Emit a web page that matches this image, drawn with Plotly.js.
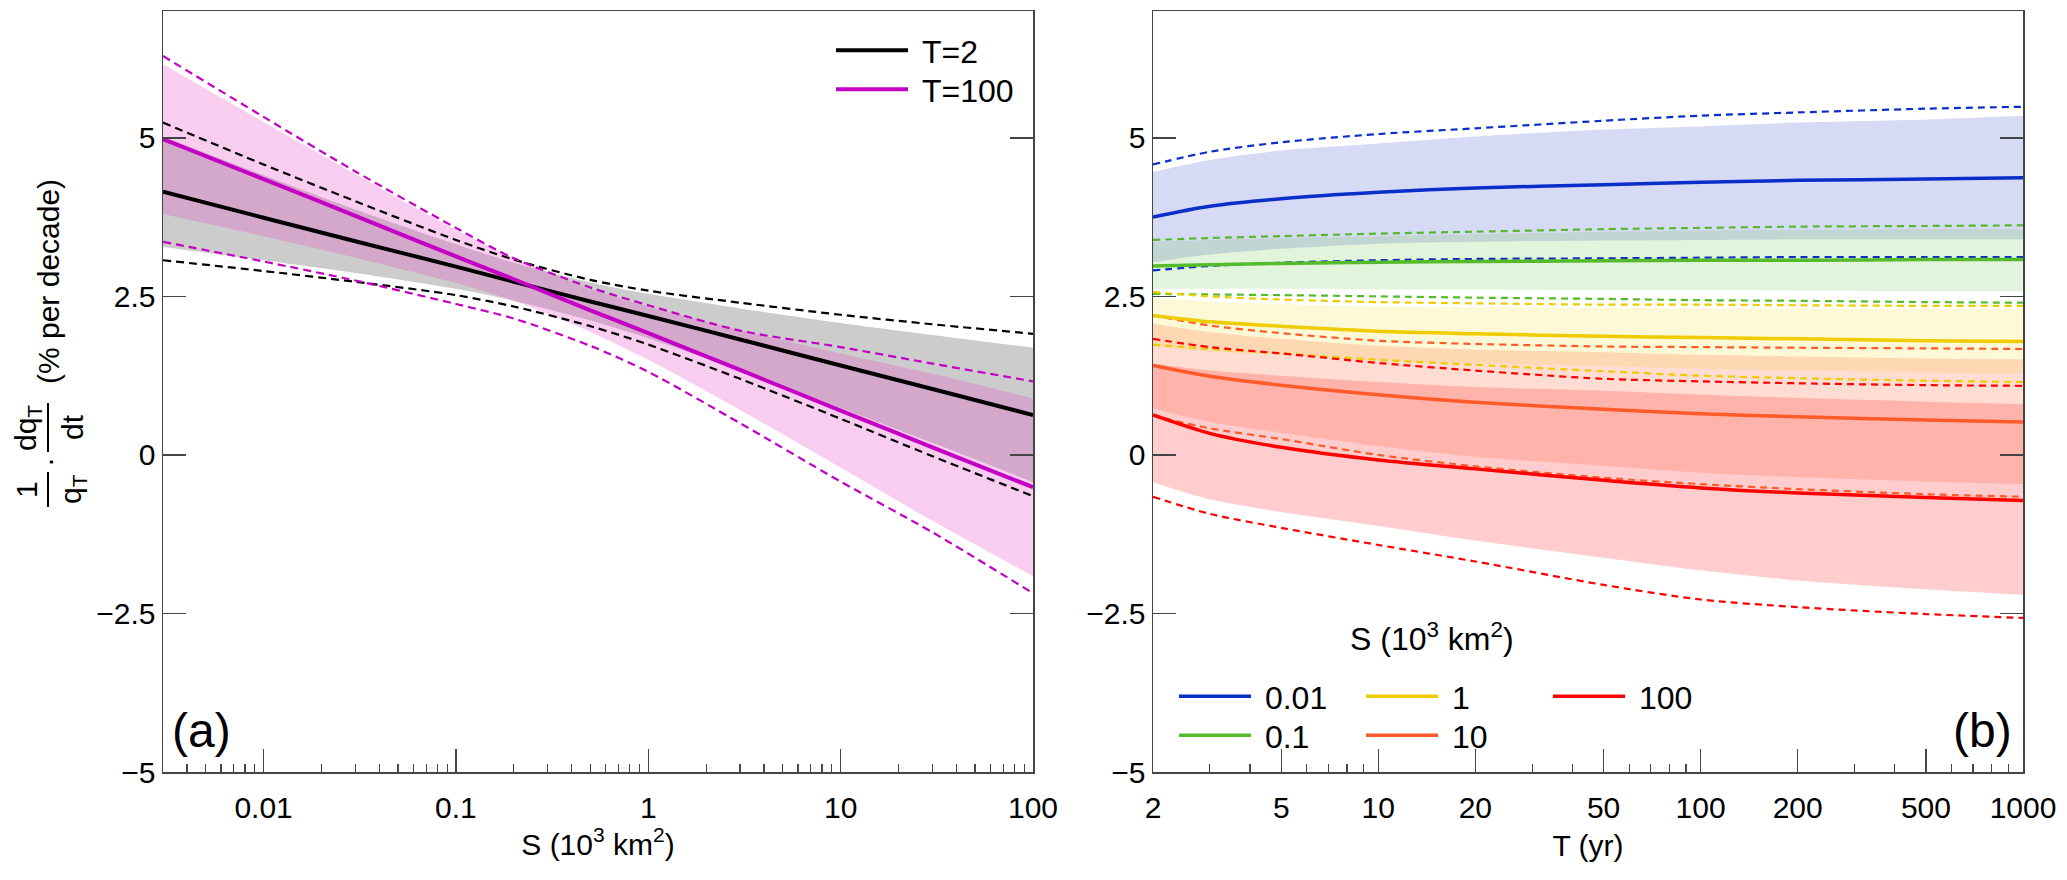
<!DOCTYPE html>
<html>
<head>
<meta charset="utf-8">
<script src="https://cdn.plot.ly/plotly-3.0.1.min.js"></script>
<style>
  html, body { margin: 0; padding: 0; background: #fff; }
  #chart { width: 2067px; height: 880px; }
</style>
</head>
<body>
<div id="chart"></div>
<script>
// ---- panel (a): trend against catchment area S (10^3 km2) ----
const S_AREA = [0.003, 0.01, 0.03, 0.1, 0.2, 0.5, 1, 3, 10, 30, 100];

const T2_MEAN    = [4.15, 3.74, 3.37, 2.97, 2.73, 2.42, 2.19, 1.82, 1.41, 1.04, 0.63];
const T2_BAND_HI = [5.02, 4.41, 3.87, 3.32, 3.03, 2.72, 2.54, 2.31, 2.08, 1.89, 1.69];
const T2_BAND_LO = [3.28, 3.07, 2.87, 2.62, 2.43, 2.12, 1.84, 1.33, 0.74, 0.19, -0.43];
const T2_DASH_HI = [5.24, 4.58, 4.00, 3.39, 3.08, 2.76, 2.59, 2.40, 2.21, 2.06, 1.91];
const T2_DASH_LO = [3.07, 2.90, 2.73, 2.52, 2.34, 2.03, 1.74, 1.20, 0.57, -0.02, -0.65];

const T100_MEAN    = [4.98, 4.35, 3.77, 3.13, 2.77, 2.28, 1.92, 1.34, 0.70, 0.12, -0.51];
const T100_BAND_HI = [6.16, 5.25, 4.43, 3.55, 3.11, 2.62, 2.34, 1.97, 1.60, 1.28, 0.89];
const T100_BAND_LO = [3.80, 3.45, 3.11, 2.71, 2.43, 1.94, 1.50, 0.71, -0.20, -1.04, -1.91];
const T100_DASH_HI = [6.29, 5.33, 4.47, 3.58, 3.10, 2.64, 2.36, 1.96, 1.70, 1.44, 1.16];
const T100_DASH_LO = [3.36, 3.05, 2.75, 2.38, 2.15, 1.72, 1.31, 0.50, -0.42, -1.22, -2.18];

// ---- panel (b): trend against return period T (yr) ----
const T_RET = [2, 3, 5, 10, 20, 50, 100, 200, 500, 1000];

const S001_MEAN    = [3.75, 3.92, 4.04, 4.14, 4.21, 4.26, 4.30, 4.33, 4.35, 4.37];
const S001_BAND_HI = [4.46, 4.65, 4.80, 4.91, 5.02, 5.13, 5.18, 5.24, 5.29, 5.35];
const S001_BAND_LO = [3.04, 3.16, 3.25, 3.33, 3.36, 3.38, 3.39, 3.40, 3.40, 3.40];
const S001_DASH_HI = [4.58, 4.78, 4.93, 5.06, 5.15, 5.27, 5.35, 5.40, 5.46, 5.49];
const S001_DASH_LO = [2.91, 2.98, 3.03, 3.07, 3.09, 3.10, 3.11, 3.12, 3.12, 3.12];

const S01_MEAN    = [2.98, 3.00, 3.02, 3.04, 3.05, 3.06, 3.07, 3.07, 3.08, 3.08];
const S01_BAND_HI = [3.36, 3.39, 3.42, 3.45, 3.48, 3.52, 3.54, 3.55, 3.56, 3.56];
const S01_BAND_LO = [2.62, 2.62, 2.62, 2.61, 2.61, 2.60, 2.60, 2.59, 2.58, 2.58];
const S01_DASH_HI = [3.39, 3.42, 3.45, 3.49, 3.52, 3.56, 3.58, 3.60, 3.61, 3.62];
const S01_DASH_LO = [2.54, 2.53, 2.52, 2.50, 2.48, 2.46, 2.44, 2.43, 2.41, 2.40];

const S1_MEAN    = [2.20, 2.10, 2.03, 1.95, 1.91, 1.87, 1.85, 1.83, 1.80, 1.79];
const S1_BAND_HI = [2.48, 2.42, 2.38, 2.34, 2.33, 2.32, 2.31, 2.31, 2.30, 2.30];
const S1_BAND_LO = [1.70, 1.63, 1.58, 1.49, 1.44, 1.40, 1.36, 1.33, 1.30, 1.28];
const S1_DASH_HI = [2.57, 2.50, 2.45, 2.41, 2.39, 2.37, 2.37, 2.36, 2.35, 2.35];
const S1_DASH_LO = [1.74, 1.67, 1.60, 1.50, 1.42, 1.32, 1.25, 1.21, 1.17, 1.15];

const S10_MEAN    = [1.41, 1.24, 1.10, 0.95, 0.83, 0.72, 0.65, 0.60, 0.55, 0.52];
const S10_BAND_HI = [2.07, 1.94, 1.83, 1.72, 1.66, 1.62, 1.58, 1.55, 1.52, 1.51];
const S10_BAND_LO = [0.73, 0.52, 0.35, 0.14, -0.03, -0.17, -0.28, -0.35, -0.42, -0.46];
const S10_DASH_HI = [2.20, 2.04, 1.92, 1.80, 1.75, 1.71, 1.70, 1.69, 1.68, 1.67];
const S10_DASH_LO = [0.62, 0.42, 0.25, 0.00, -0.18, -0.36, -0.46, -0.54, -0.62, -0.66];

const S100_MEAN    = [0.63, 0.34, 0.12, -0.08, -0.22, -0.40, -0.52, -0.60, -0.67, -0.72];
const S100_BAND_HI = [1.44, 1.33, 1.25, 1.15, 1.07, 1.01, 0.95, 0.90, 0.84, 0.80];
const S100_BAND_LO = [-0.43, -0.70, -0.90, -1.12, -1.35, -1.62, -1.82, -1.98, -2.12, -2.21];
const S100_DASH_HI = [1.83, 1.70, 1.60, 1.45, 1.33, 1.20, 1.16, 1.13, 1.10, 1.09];
const S100_DASH_LO = [-0.66, -0.93, -1.15, -1.42, -1.68, -2.05, -2.28, -2.40, -2.51, -2.57];

const Y_TICKS = [-5, -2.5, 0, 2.5, 5];
const Y_TICK_TEXT = ["\u22125", "\u22122.5", "0", "2.5", "5"];
const S_TICKS = [0.01, 0.1, 1, 10, 100];
const S_TICK_TEXT = ["0.01", "0.1", "1", "10", "100"];
const T_TICKS = [2, 5, 10, 20, 50, 100, 200, 500, 1000];
const T_TICK_TEXT = ["2", "5", "10", "20", "50", "100", "200", "500", "1000"];

const FONT = "Liberation Sans, Arial, Helvetica, sans-serif";
const AXIS_COLOR = "#444";
const NB = "\u00a0"; // small gap between legend line and its label

// pixel helpers (figure is 2067 x 880, plot area spans 163..2023 x 11..772)
const PL = 163, PR = 2023, PT = 11, PB = 772;
const xp = (px) => (px - PL) / (PR - PL);
const yp = (py) => (PB - py) / (PB - PT);

const minorLogTicks = (fromExp, toExp, skip) => {
  const out = [];
  for (let e = fromExp; e < toExp; e += 1) {
    for (let m = 2; m <= 9; m += 1) {
      if (skip.indexOf(m) === -1) out.push(m * Math.pow(10, e));
    }
  }
  return out;
};

const bandPair = (x, lo, hi, fillColor, xa, ya) => [
  { x: x, y: lo, xaxis: xa, yaxis: ya, type: "scatter", mode: "lines",
    line: { width: 0, shape: "spline", smoothing: 0.8 }, hoverinfo: "skip", showlegend: false },
  { x: x, y: hi, xaxis: xa, yaxis: ya, type: "scatter", mode: "lines", fill: "tonexty",
    fillcolor: fillColor, line: { width: 0, shape: "spline", smoothing: 0.8 },
    hoverinfo: "skip", showlegend: false }
];

const dashLine = (x, y, color, xa, ya, dash) => ({
  x: x, y: y, xaxis: xa, yaxis: ya, type: "scatter", mode: "lines",
  line: { color: color, width: 2.2, dash: dash, shape: "spline", smoothing: 0.8 },
  hoverinfo: "skip", showlegend: false
});

const meanLine = (x, y, color, name, xa, ya, legend, width) => ({
  x: x, y: y, xaxis: xa, yaxis: ya, type: "scatter", mode: "lines", name: NB + name,
  line: { color: color, width: width, shape: "spline", smoothing: 0.8 },
  legend: legend, showlegend: true
});

const panelA = [
  { name: "T=2", color: "#000000", fill: "rgb(204,204,204)", legend: "legend",
    mean: T2_MEAN, lo: T2_BAND_LO, hi: T2_BAND_HI, dlo: T2_DASH_LO, dhi: T2_DASH_HI },
  { name: "T=100", color: "#c400c4", fill: "rgba(233,73,200,0.275)", legend: "legend4",
    mean: T100_MEAN, lo: T100_BAND_LO, hi: T100_BAND_HI, dlo: T100_DASH_LO, dhi: T100_DASH_HI }
];

const panelB = [
  { name: "0.01", color: "#0a2ec8", fill: "rgba(40,60,200,0.19)", legend: "legend2",
    mean: S001_MEAN, lo: S001_BAND_LO, hi: S001_BAND_HI, dlo: S001_DASH_LO, dhi: S001_DASH_HI },
  { name: "0.1", color: "#55bb2a", fill: "rgba(90,190,50,0.17)", legend: "legend3",
    mean: S01_MEAN, lo: S01_BAND_LO, hi: S01_BAND_HI, dlo: S01_DASH_LO, dhi: S01_DASH_HI },
  { name: "1", color: "#eecc00", fill: "rgba(245,215,0,0.16)", legend: "legend2",
    mean: S1_MEAN, lo: S1_BAND_LO, hi: S1_BAND_HI, dlo: S1_DASH_LO, dhi: S1_DASH_HI },
  { name: "10", color: "#ff5a28", fill: "rgba(255,100,50,0.22)", legend: "legend3",
    mean: S10_MEAN, lo: S10_BAND_LO, hi: S10_BAND_HI, dlo: S10_DASH_LO, dhi: S10_DASH_HI },
  { name: "100", color: "#ff0000", fill: "rgba(255,40,40,0.23)", legend: "legend2",
    mean: S100_MEAN, lo: S100_BAND_LO, hi: S100_BAND_HI, dlo: S100_DASH_LO, dhi: S100_DASH_HI }
];

const data = [];
panelA.forEach((s) => data.push(...bandPair(S_AREA, s.lo, s.hi, s.fill, "x", "y")));
panelB.forEach((s) => data.push(...bandPair(T_RET, s.lo, s.hi, s.fill, "x2", "y2")));
panelA.forEach((s) => {
  data.push(dashLine(S_AREA, s.dhi, s.color, "x", "y", "8px,5px"));
  data.push(dashLine(S_AREA, s.dlo, s.color, "x", "y", "8px,5px"));
});
panelB.forEach((s) => {
  data.push(dashLine(T_RET, s.dhi, s.color, "x2", "y2", "7px,5px"));
  data.push(dashLine(T_RET, s.dlo, s.color, "x2", "y2", "7px,5px"));
});
panelA.forEach((s) => data.push(meanLine(S_AREA, s.mean, s.color, s.name, "x", "y", s.legend, 4)));
panelB.forEach((s) => data.push(meanLine(T_RET, s.mean, s.color, s.name, "x2", "y2", s.legend, 3.5)));

const baseAxis = {
  showline: true, linecolor: AXIS_COLOR, linewidth: 1.5,
  ticks: "inside", ticklen: 23, tickwidth: 1.5, tickcolor: AXIS_COLOR,
  showgrid: false, zeroline: false,
  tickfont: { family: FONT, size: 30, color: "#000" }
};

const minorStyle = { ticks: "inside", ticklen: 8, tickwidth: 1.2, tickcolor: AXIS_COLOR, showgrid: false };

const yAxisBase = Object.assign({}, baseAxis, {
  range: [-5, 7], tickmode: "array", tickvals: Y_TICKS, ticktext: Y_TICK_TEXT, mirror: "ticks"
});

const ann = (text, x, y, opts) => Object.assign({
  text: text, xref: "paper", yref: "paper", x: xp(x), y: yp(y),
  xanchor: "center", yanchor: "middle", showarrow: false,
  font: { family: FONT, size: 30, color: "#000" }
}, opts || {});

const bar = (x, y0, y1) => ({
  type: "line", xref: "paper", yref: "paper", x0: xp(x), x1: xp(x), y0: yp(y0), y1: yp(y1),
  line: { color: "#000", width: 2 }
});

const legendBox = (x, y, extra) => Object.assign({
  x: xp(x), xanchor: "left", y: yp(y), yanchor: "top",
  bgcolor: "rgba(0,0,0,0)", font: { family: FONT, size: 32, color: "#000" },
  itemwidth: 72, traceorder: "normal", tracegroupgap: 0
}, extra || {});

const layout = {
  width: 2067, height: 880, autosize: false,
  margin: { l: PL, r: 2067 - PR, t: PT, b: 880 - PB },
  paper_bgcolor: "#fff", plot_bgcolor: "#fff",
  font: { family: FONT, size: 30, color: "#000" },
  xaxis: Object.assign({}, baseAxis, {
    type: "log", domain: [0, xp(1033)], range: [Math.log10(0.003), 2], mirror: true,
    tickmode: "array", tickvals: S_TICKS, ticktext: S_TICK_TEXT, anchor: "y",
    ticklabelstandoff: 8,
    minor: Object.assign({ tickmode: "array", tickvals: minorLogTicks(-3, 2, [1]) }, minorStyle),
    title: { text: "S (10<sup>3</sup> km<sup>2</sup>)", font: { family: FONT, size: 30 }, standoff: 4 }
  }),
  yaxis: Object.assign({}, yAxisBase, { anchor: "x" }),
  xaxis2: Object.assign({}, baseAxis, {
    type: "log", domain: [xp(1153), 1], range: [Math.log10(2), 3], mirror: true,
    tickmode: "array", tickvals: T_TICKS, ticktext: T_TICK_TEXT, anchor: "y2",
    ticklabelstandoff: 8,
    minor: Object.assign({ tickmode: "array", tickvals: minorLogTicks(0, 3, [1, 2, 5]) }, minorStyle),
    title: { text: "T (yr)", font: { family: FONT, size: 30 }, standoff: 12 }
  }),
  yaxis2: Object.assign({}, yAxisBase, { anchor: "x2" }),
  legend: legendBox(831, 23),
  legend4: legendBox(831, 62),
  legend2: legendBox(1174, 669, { orientation: "h", entrywidth: 100, entrywidthmode: "pixels" }),
  legend3: legendBox(1174, 708, { orientation: "h", entrywidth: 100, entrywidthmode: "pixels" }),
  annotations: [
    ann("(a)", 170, 730, { xanchor: "left", font: { family: FONT, size: 48, color: "#000" } }),
    ann("(b)", 2014, 730, { xanchor: "right", font: { family: FONT, size: 48, color: "#000" } }),
    ann("S (10<sup>3</sup> km<sup>2</sup>)", 1432, 637, { font: { family: FONT, size: 32, color: "#000" } }),
    ann("(% per decade)", 48, 282, { textangle: -90 }),
    ann("dq<sub>T</sub>", 27, 428, { textangle: -90 }),
    ann("dt", 72, 427, { textangle: -90 }),
    ann("\u00b7", 48, 462, { textangle: -90 }),
    ann("1", 27, 490, { textangle: -90 }),
    ann("q<sub>T</sub>", 72, 489, { textangle: -90 })
  ],
  shapes: [bar(48, 403, 452), bar(48, 472, 507)]
};

Plotly.newPlot("chart", data, layout, { displayModeBar: false, staticPlot: true });
</script>
</body>
</html>
